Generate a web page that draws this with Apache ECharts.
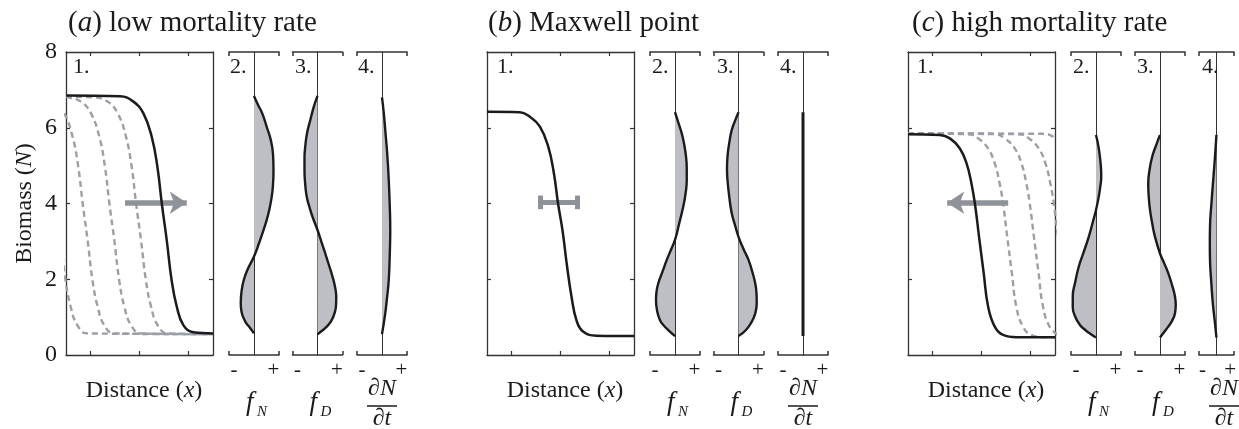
<!DOCTYPE html>
<html><head><meta charset="utf-8">
<script src="https://cdn.jsdelivr.net/npm/echarts@6/dist/echarts.min.js"></script>
<style>html,body{margin:0;padding:0;background:#fff}#c{width:1239px;height:429px}</style>
</head><body><div id="c"></div>
<script>
// ---------- texts ----------
const panelLetters = ['a', 'b', 'c'];
const panelTitles = ['low mortality rate', 'Maxwell point', 'high mortality rate'];
const subPanelNumbers = ['1.', '2.', '3.', '4.'];
const yTickValues = [2, 4, 6];
const xTickValues = [-2, 0, 2];
const signLabels = ['-', '+'];
const signPositions = [-0.8, 0.78];

// ---------- panel 1: fronts, [distance x, biomass N] ----------
const aSolid = [[-3,6.85],[-0.8,6.83],[-0.25,6.69],[0.16,6.38],[0.5,5.76],[0.73,4.97],[0.91,4.0],[1.11,3.04],[1.31,1.98],[1.52,1.28],[1.79,0.79],[2.2,0.6],[3,0.57]];
const aDash0 = [[-3.83,5.76],[-3.6,4.97],[-3.42,4.0],[-3.22,3.04],[-3.02,1.98],[-2.81,1.28],[-2.54,0.79],[-2.13,0.57],[3,0.55]];
const aDash1 = [[-4.03,6.82],[-3.48,6.69],[-3.07,6.38],[-2.73,5.76],[-2.5,4.97],[-2.32,4.0],[-2.12,3.04],[-1.92,1.98],[-1.71,1.28],[-1.44,0.79],[-1.03,0.57],[3,0.55]];
const aDash2 = [[-3,6.82],[-2.9,6.8],[-2.39,6.69],[-1.98,6.38],[-1.64,5.76],[-1.41,4.97],[-1.23,4.0],[-1.03,3.04],[-0.83,1.98],[-0.62,1.28],[-0.35,0.79],[0.06,0.57],[3,0.55]];
const aDash3 = [[-3,6.82],[-1.85,6.8],[-1.3,6.69],[-0.89,6.38],[-0.55,5.76],[-0.32,4.97],[-0.14,4.0],[0.06,3.04],[0.26,1.98],[0.47,1.28],[0.74,0.79],[1.15,0.57],[3,0.55]];
const aArrow = [[-0.59,4.02],[1.93,4.02]];

const bSolid = [[-3,6.42],[-1.66,6.41],[-1.25,6.29],[-0.84,6.03],[-0.5,5.5],[-0.27,4.8],[-0.1,4.0],[0.08,3.3],[0.27,2.33],[0.45,1.54],[0.65,0.92],[0.92,0.62],[1.47,0.51],[3,0.5]];
const bBar = [[-0.84,4.03],[0.68,4.03]];
const bBarCap = [3.85, 4.21];

const cSolid = [[-3,5.83],[-1.7,5.81],[-1.29,5.72],[-0.89,5.46],[-0.61,5.06],[-0.41,4.53],[-0.27,4.0],[-0.1,3.12],[0.09,2.16],[0.27,1.28],[0.54,0.75],[0.88,0.53],[1.43,0.47],[3,0.47]];
const cDash1 = [[-3,5.85],[-0.55,5.83],[-0.14,5.72],[0.26,5.46],[0.54,5.06],[0.74,4.53],[0.88,4.0],[1.05,3.12],[1.24,2.16],[1.42,1.28],[1.69,0.75],[2.03,0.53],[2.58,0.47],[3,0.47]];
const cDash2 = [[-3,5.85],[0.54,5.83],[0.95,5.72],[1.35,5.46],[1.63,5.06],[1.83,4.53],[1.97,4.0],[2.14,3.12],[2.33,2.16],[2.51,1.28],[2.78,0.75],[3.12,0.53]];
const cDash3 = [[-3,5.85],[1.52,5.83],[1.93,5.72],[2.33,5.46],[2.61,5.06],[2.81,4.53],[2.95,4.0],[3.12,3.12],[3.31,2.16]];
const cDash4 = [[-3,5.85],[2.6,5.84],[3.01,5.72]];
const cArrow = [[1.09,4.02],[-1.4,4.02]];

// ---------- panels 2-4: [rate, biomass N] ----------
const aFN = [[0,6.84],[0.15,6.62],[0.33,6.38],[0.52,6.0],[0.67,5.68],[0.76,5.3],[0.78,4.88],[0.76,4.5],[0.71,4.18],[0.6,3.8],[0.47,3.48],[0.33,3.2],[0.2,2.95],[0,2.6],[-0.27,2.24],[-0.4,2.0],[-0.49,1.72],[-0.53,1.37],[-0.5,1.15],[-0.44,1.01],[-0.32,0.85],[-0.2,0.75],[0,0.57]];
const aFD = [[0,6.84],[-0.15,6.55],[-0.29,6.2],[-0.42,5.85],[-0.49,5.5],[-0.52,5.2],[-0.52,4.88],[-0.49,4.5],[-0.43,4.18],[-0.32,3.9],[-0.2,3.65],[0,3.3],[0.15,3.0],[0.31,2.68],[0.46,2.37],[0.6,2.07],[0.7,1.8],[0.75,1.54],[0.74,1.3],[0.68,1.1],[0.55,0.9],[0.37,0.75],[0.18,0.64],[0,0.55]];
const aDN = [[0,6.8],[0.07,6.4],[0.13,5.94],[0.21,5.3],[0.27,4.62],[0.31,3.95],[0.33,3.3],[0.31,2.64],[0.27,1.98],[0.2,1.5],[0.13,1.1],[0,0.55]];

const bFN = [[0,6.41],[0.14,6.12],[0.27,5.85],[0.37,5.55],[0.44,5.24],[0.47,4.93],[0.47,4.62],[0.42,4.25],[0.33,3.92],[0.17,3.48],[0,3.04],[-0.16,2.78],[-0.33,2.51],[-0.5,2.2],[-0.67,1.89],[-0.74,1.67],[-0.76,1.45],[-0.72,1.18],[-0.6,0.92],[-0.45,0.78],[-0.27,0.66],[0,0.5]];
const bFD = [[0,6.41],[-0.14,6.18],[-0.27,5.94],[-0.37,5.6],[-0.44,5.24],[-0.46,4.93],[-0.44,4.62],[-0.37,4.18],[-0.27,3.74],[-0.14,3.43],[0,3.12],[0.2,2.8],[0.4,2.51],[0.55,2.2],[0.67,1.89],[0.72,1.63],[0.73,1.37],[0.67,1.1],[0.53,0.88],[0.3,0.66],[0,0.5]];
const bDN = [[0,6.41],[0,0.5]];

const cFN = [[0,5.81],[0.1,5.5],[0.17,5.15],[0.2,4.93],[0.21,4.71],[0.17,4.44],[0.11,4.18],[0,3.83],[-0.14,3.48],[-0.29,3.12],[-0.49,2.72],[-0.69,2.33],[-0.83,1.93],[-0.93,1.54],[-0.93,1.27],[-0.83,1.01],[-0.65,0.8],[-0.43,0.66],[-0.2,0.55],[0,0.46]];
const cFD = [[0,5.81],[-0.16,5.53],[-0.31,5.24],[-0.42,4.88],[-0.47,4.53],[-0.45,4.18],[-0.4,3.83],[-0.31,3.47],[-0.2,3.12],[0,2.68],[0.17,2.42],[0.33,2.16],[0.48,1.85],[0.6,1.54],[0.63,1.32],[0.6,1.1],[0.48,0.9],[0.33,0.75],[0.16,0.6],[0,0.46]];
const cDN = [[0,5.81],[-0.08,5.26],[-0.17,4.71],[-0.28,4.05],[-0.37,3.39],[-0.38,2.95],[-0.37,2.51],[-0.3,1.94],[-0.21,1.37],[-0.1,0.9],[0,0.46]];

// ---------- layout / style ----------
const FONT = "'Liberation Serif','DejaVu Serif',serif";
const INK = '#1b1b1b', AXIS = '#333333', DASH = '#9c9fa6', FILL = '#bdbfc5', ARROW = '#8e9299';
const TOP = 52, H = 303, MAIN_W = 147, SMALL_W = 50;
const mainLeft = [66, 487, 908];
const smallLeft = [[229, 292.5, 357], [650, 713.5, 778], [1071, 1135, 1199]];
const titleLeft = [68, 488, 912];
const numLeft = [[73, 230, 295, 358], [497, 652, 717, 780], [917, 1073, 1137, 1202]];

const mains = [
  { solid: aSolid, dashes: [aDash0, aDash1, aDash2, aDash3], arrow: aArrow },
  { solid: bSolid, dashes: [], bar: bBar },
  { solid: cSolid, dashes: [cDash1, cDash2, cDash3, cDash4], arrow: cArrow }
];
const smalls = [[aFN, aFD, aDN], [bFN, bFD, bDN], [cFN, cFD, cDN]];

const grid = [], xAxis = [], yAxis = [], series = [], graphic = [];
const richN = { n: { fontFamily: FONT, fontSize: 24, color: INK }, i: { fontFamily: FONT, fontSize: 24, fontStyle: 'italic', color: INK } };

mains.forEach((p, i) => {
  grid.push({ left: mainLeft[i], top: TOP, width: MAIN_W, height: H });
  const gi = grid.length - 1;
  const line = { show: true, onZero: false, lineStyle: { color: AXIS, width: 1.3 } };
  const tickX = { show: true, inside: true, length: 4, customValues: xTickValues, lineStyle: { color: AXIS, width: 1.2 } };
  const tickY = { show: true, inside: true, length: 4, customValues: yTickValues, lineStyle: { color: AXIS, width: 1.2 } };
  const xi = xAxis.length, yi = yAxis.length;
  xAxis.push({ gridIndex: gi, type: 'value', min: -3, max: 3, position: 'bottom', axisLine: line, axisTick: tickX,
    axisLabel: { show: false }, splitLine: { show: false },
    name: '{n|Distance (}{i|x}{n|)}', nameLocation: 'middle', nameGap: 24,
    nameTextStyle: { fontFamily: FONT, fontSize: 24, color: INK, rich: richN, padding: [0, 0, 0, 9] } });
  xAxis.push({ gridIndex: gi, type: 'value', min: -3, max: 3, position: 'top', axisLine: line, axisTick: tickX,
    axisLabel: { show: false }, splitLine: { show: false } });
  yAxis.push(Object.assign({ gridIndex: gi, type: 'value', min: 0, max: 8, interval: 2, position: 'left', axisLine: line, axisTick: tickY,
    axisLabel: { show: i === 0, fontFamily: FONT, fontSize: 24, color: INK, margin: 9 }, splitLine: { show: false } },
    i === 0 ? { name: '{n|Biomass (}{i|N}{n|)}', nameLocation: 'middle', nameGap: 29,
      nameTextStyle: { fontFamily: FONT, fontSize: 24, color: INK, rich: richN } } : {}));
  yAxis.push({ gridIndex: gi, type: 'value', min: 0, max: 8, interval: 2, position: 'right', axisLine: line, axisTick: tickY,
    axisLabel: { show: false }, splitLine: { show: false } });

  p.dashes.forEach((d) => {
    series.push({ type: 'line', xAxisIndex: xi, yAxisIndex: yi, data: d, smooth: 0.45, showSymbol: false, symbol: 'none',
      lineStyle: { color: DASH, width: 2.4, type: [6, 4] }, z: 2, animation: false, silent: true });
  });
  series.push({ type: 'line', xAxisIndex: xi, yAxisIndex: yi, data: p.solid, smooth: 0.45, showSymbol: false, symbol: 'none',
    lineStyle: { color: INK, width: 2.5 }, z: 6, animation: false, silent: true });
  // arrow / bar as marker on a helper series under the solid front
  const helper = { type: 'line', xAxisIndex: xi, yAxisIndex: yi, data: [], animation: false, silent: true, z: 3 };
  if (p.arrow) {
    helper.markLine = { silent: true, animation: false, symbol: ['none', 'arrow'], symbolSize: 17, label: { show: false },
      lineStyle: { color: ARROW, width: 5.5, type: 'solid' }, emphasis: { disabled: true },
      data: [[{ coord: p.arrow[0] }, { coord: p.arrow[1] }]] };
  }
  if (p.bar) {
    helper.markLine = { silent: true, animation: false, symbol: ['none', 'none'], label: { show: false },
      lineStyle: { color: ARROW, width: 5, type: 'solid' }, emphasis: { disabled: true },
      data: [
        [{ coord: p.bar[0] }, { coord: p.bar[1] }],
        [{ coord: [p.bar[0][0], bBarCap[0]] }, { coord: [p.bar[0][0], bBarCap[1]] }],
        [{ coord: [p.bar[1][0], bBarCap[0]] }, { coord: [p.bar[1][0], bBarCap[1]] }]
      ] };
  }
  series.push(helper);

  // title
  graphic.push({ type: 'text', x: titleLeft[i], y: 23, silent: true, style: {
    text: '{n|(}{i|' + panelLetters[i] + '}{n|) ' + panelTitles[i] + '}',
    rich: { n: { fontFamily: FONT, fontSize: 29, fill: INK, color: INK }, i: { fontFamily: FONT, fontSize: 29, fontStyle: 'italic', fill: INK, color: INK } },
    align: 'left', verticalAlign: 'middle', textAlign: 'left', textVerticalAlign: 'middle' } });
  // subpanel numbers
  subPanelNumbers.forEach((t, k) => {
    graphic.push({ type: 'text', x: numLeft[i][k], y: 67, silent: true, z: 100, style: {
      text: t, font: '22px ' + FONT, fill: INK, align: 'left', verticalAlign: 'middle', textAlign: 'left', textVerticalAlign: 'middle' } });
  });

  // small panels
  smalls[i].forEach((d, k) => {
    grid.push({ left: smallLeft[i][k], top: TOP, width: SMALL_W, height: H });
    const g2 = grid.length - 1;
    const sx = xAxis.length, sy = yAxis.length;
    const bl = { show: true, onZero: false, lineStyle: { color: AXIS, width: 1.5 } };
    const bt = { show: true, inside: true, length: 4, customValues: [-1, 1], lineStyle: { color: AXIS, width: 1.5 } };
    xAxis.push({ gridIndex: g2, type: 'value', min: -1, max: 1, position: 'bottom', axisLine: bl, axisTick: bt,
      axisLabel: { show: true, customValues: signPositions, formatter: v => (v < 0 ? signLabels[0] : signLabels[1]),
        fontFamily: FONT, fontSize: 21, color: INK, margin: 5 }, splitLine: { show: false } });
    xAxis.push({ gridIndex: g2, type: 'value', min: -1, max: 1, position: 'top', axisLine: bl, axisTick: bt,
      axisLabel: { show: false }, splitLine: { show: false } });
    yAxis.push({ gridIndex: g2, type: 'time', min: 0, max: 8,
      axisLine: { show: true, onZero: true, lineStyle: { color: AXIS, width: 1 } },
      axisTick: { show: false }, axisLabel: { show: false }, splitLine: { show: false } });
    const isLine = d.length === 2;
    series.push({ type: 'line', xAxisIndex: sx, yAxisIndex: sy, data: d, smooth: isLine ? false : 0.5,
      showSymbol: false, symbol: 'none', lineStyle: { color: INK, width: isLine ? 3 : 2.4 },
      areaStyle: isLine ? undefined : { color: FILL, opacity: 1 }, z: 4, animation: false, silent: true });
  });

  // bottom labels f_N, f_D, dN/dt
  const cN = smallLeft[i][0] + SMALL_W / 2, cD = smallLeft[i][1] + SMALL_W / 2, cT = smallLeft[i][2] + SMALL_W / 2;
  [[cN, 'N'], [cD, 'D']].forEach(([c, sub]) => {
    graphic.push({ type: 'text', x: c - 8, y: 403, silent: true, style: { text: 'f', font: 'italic 27px ' + FONT, fill: INK,
      align: 'left', verticalAlign: 'middle', textAlign: 'left', textVerticalAlign: 'middle' } });
    graphic.push({ type: 'text', x: c + 3, y: 412, silent: true, style: { text: sub, font: 'italic 15px ' + FONT, fill: INK,
      align: 'left', verticalAlign: 'middle', textAlign: 'left', textVerticalAlign: 'middle' } });
  });
  graphic.push({ type: 'text', x: cT, y: 389, silent: true, style: { text: '\u2202N', font: 'italic 24px ' + FONT, fill: INK,
    align: 'center', verticalAlign: 'middle', textAlign: 'center', textVerticalAlign: 'middle' } });
  graphic.push({ type: 'line', silent: true, shape: { x1: cT - 15, y1: 406, x2: cT + 15, y2: 406 }, style: { stroke: INK, lineWidth: 1.5 } });
  graphic.push({ type: 'text', x: cT, y: 419, silent: true, style: { text: '\u2202t', font: 'italic 24px ' + FONT, fill: INK,
    align: 'center', verticalAlign: 'middle', textAlign: 'center', textVerticalAlign: 'middle' } });
});

const chart = echarts.init(document.getElementById('c'), null, { renderer: 'canvas' });
chart.setOption({ animation: false, backgroundColor: '#ffffff', grid, xAxis, yAxis, series, graphic });
</script></body></html>
